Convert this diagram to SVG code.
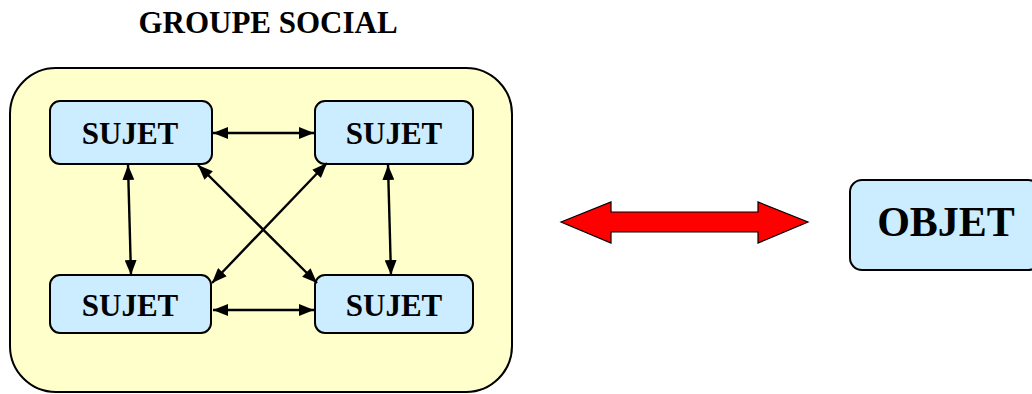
<svg xmlns="http://www.w3.org/2000/svg" width="1032" height="394" viewBox="0 0 1032 394">
<style>
.lbl{font-family:"Liberation Serif","Times New Roman",serif;font-weight:bold;fill:#000;text-anchor:middle}
.box{fill:#CCECFF;stroke:#000;stroke-width:2}
.con{stroke:#000;stroke-width:2.4;fill:none;marker-start:url(#ah);marker-end:url(#ah)}
</style>
<defs>
<marker id="ah" viewBox="0 0 15 12" refX="15" refY="6" markerWidth="15" markerHeight="12" markerUnits="userSpaceOnUse" orient="auto-start-reverse">
<path d="M0,0 L15,6 L0,12 Z" fill="#000"/>
</marker>
</defs>
<rect width="1032" height="394" fill="#fff"/>
<text class="lbl" x="268" y="33" font-size="31">GROUPE SOCIAL</text>
<g id="groupe">
<rect x="10" y="68" width="502" height="324" rx="46" fill="#FFFFCC" stroke="#000" stroke-width="2"/>
</g>
<g id="sujet1"><rect class="box" x="50" y="101" width="162" height="63" rx="10"/><text class="lbl" x="130" y="144" font-size="31">SUJET</text></g>
<g id="sujet2"><rect class="box" x="315" y="101" width="158" height="63" rx="10"/><text class="lbl" x="394" y="144" font-size="31">SUJET</text></g>
<g id="sujet3"><rect class="box" x="50" y="275" width="161" height="58" rx="10"/><text class="lbl" x="130" y="316" font-size="31">SUJET</text></g>
<g id="sujet4"><rect class="box" x="315" y="275" width="158" height="58" rx="10"/><text class="lbl" x="394" y="316" font-size="31">SUJET</text></g>
<g id="objet"><rect class="box" x="850" y="180" width="190" height="90" rx="12"/><text class="lbl" x="946" y="236" font-size="42">OBJET</text></g>
<g id="connectors">
<line class="con" x1="213" y1="133" x2="314" y2="133"/>
<line class="con" x1="213" y1="310" x2="314" y2="310"/>
<line class="con" x1="128" y1="165" x2="131" y2="275"/>
<line class="con" x1="388" y1="165" x2="391" y2="275"/>
<line class="con" x1="198" y1="165" x2="317" y2="283"/>
<line class="con" x1="327" y1="163" x2="212" y2="283"/>
<path d="M561,222 L611,202 L611,212 L758,212 L758,202 L808,222 L758,243 L758,232 L611,232 L611,243 Z" fill="#FF0000" stroke="#000" stroke-width="1.2"/>
</g>
</svg>
